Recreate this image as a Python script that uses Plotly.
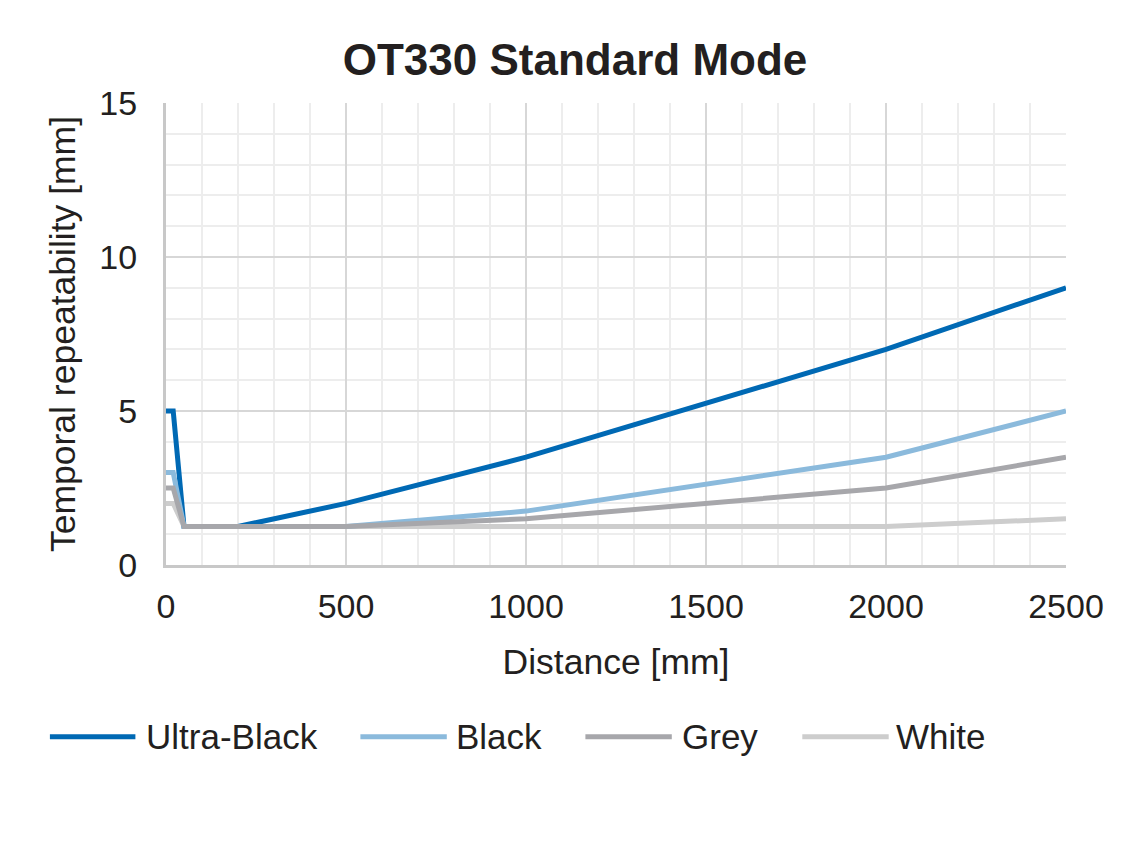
import plotly.graph_objects as go

# ---- DATA ---- #
distance = [0, 20, 50, 200, 500, 1000, 2000, 2500]

ultra_black = [5.0, 5.0, 1.25, 1.25, 2.0, 3.5, 7.0, 9.0]
black = [3.0, 3.0, 1.25, 1.25, 1.25, 1.75, 3.5, 5.0]
grey = [2.5, 2.5, 1.25, 1.25, 1.25, 1.5, 2.5, 3.5]
white = [2.0, 2.0, 1.25, 1.25, 1.25, 1.25, 1.25, 1.5]

series_names = ["Ultra-Black", "Black", "Grey", "White"]
series_values = [ultra_black, black, grey, white]

# ---- STYLE ---- #
colors = {
    "Ultra-Black": "#0069B4",
    "Black": "#8BBADC",
    "Grey": "#A7A7AB",
    "White": "#CDCDCD",
}
draw_order = ["White", "Ultra-Black", "Black", "Grey"]
font_family = "Liberation Sans, Arial, sans-serif"
text_color = "#231F20"

# legend layout (paper coordinates): line start, line end, text start
legend_y = -0.372
legend_pos = {
    "Ultra-Black": (-0.129, -0.034, -0.025),
    "Black": (0.216, 0.312, 0.320),
    "Grey": (0.466, 0.562, 0.571),
    "White": (0.707, 0.803, 0.809),
}

fig = go.Figure()

data = dict(zip(series_names, series_values))
for name in draw_order:
    fig.add_trace(go.Scatter(
        x=distance,
        y=data[name],
        mode="lines",
        line=dict(color=colors[name], width=5),
        name=name,
        showlegend=False,
    ))

# ---- CUSTOM LEGEND (long sample lines like the original) ---- #
for name in series_names:
    x0, x1, xt = legend_pos[name]
    fig.add_shape(
        type="line", xref="paper", yref="paper",
        x0=x0, x1=x1, y0=legend_y, y1=legend_y,
        line=dict(color=colors[name], width=5),
    )
    fig.add_annotation(
        xref="paper", yref="paper", x=xt, y=legend_y,
        text=name, showarrow=False, xanchor="left", yanchor="middle",
        font=dict(size=35, color=text_color, family=font_family),
    )

grid_major = "#D7D7D7"
grid_minor = "#EDEDED"

fig.update_layout(
    title=dict(
        text="<b>OT330 Standard Mode</b>",
        x=0.5, xanchor="center", y=0.94, yanchor="middle",
        font=dict(size=44, color=text_color, family=font_family),
    ),
    width=1134,
    height=864,
    margin=dict(l=158, r=76, t=95, b=307),
    plot_bgcolor="white",
    paper_bgcolor="white",
    font=dict(family=font_family, size=34, color=text_color),
    xaxis=dict(
        range=[0, 2500],
        dtick=500,
        showgrid=True,
        gridcolor=grid_major,
        gridwidth=2,
        minor=dict(dtick=100, showgrid=True, gridcolor=grid_minor, gridwidth=2),
        showline=True,
        linecolor="#C8C8C8",
        linewidth=3,
        zeroline=False,
        ticks="",
        ticklabelstandoff=9,
        title=dict(text="Distance [mm]", standoff=26,
                   font=dict(size=35.5, color=text_color)),
        tickfont=dict(size=34, color=text_color),
    ),
    yaxis=dict(
        range=[0, 15],
        dtick=5,
        showgrid=True,
        gridcolor=grid_major,
        gridwidth=2,
        minor=dict(dtick=1, showgrid=True, gridcolor=grid_minor, gridwidth=2),
        showline=True,
        linecolor="#C8C8C8",
        linewidth=3,
        zeroline=False,
        ticks="",
        ticklabelstandoff=19,
        title=dict(text="Temporal repeatability [mm]", standoff=13,
                   font=dict(size=35.5, color=text_color)),
        tickfont=dict(size=34, color=text_color),
    ),
)

fig.write_html("out.html")
